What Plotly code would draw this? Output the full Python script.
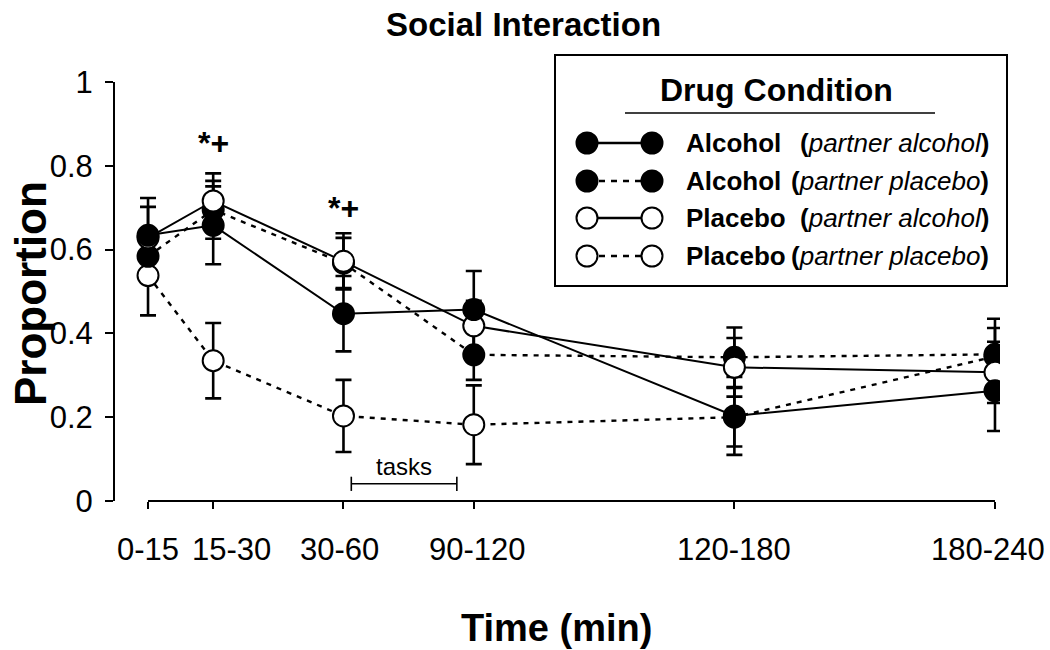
import plotly.graph_objects as go

# x categories (time bins) and their positions on the axis
time_labels = ["0-15", "15-30", "30-60", "90-120", "120-180", "180-240"]
time_pos = [0, 1, 3, 5, 9, 13]

# proportions per drug condition (mean) and SEM
alc_pa = [0.634, 0.658, 0.447, 0.457, 0.203, 0.263]
alc_pa_err = [0.089, 0.093, 0.090, 0.092, 0.093, 0.096]
alc_pp = [0.584, 0.695, 0.568, 0.349, 0.343, 0.350]
alc_pp_err = [0.060, 0.069, 0.060, 0.060, 0.071, 0.085]
plc_pa = [0.628, 0.716, 0.572, 0.418, 0.319, 0.307]
plc_pa_err = [0.074, 0.066, 0.067, 0.060, 0.070, 0.073]
plc_pp = [0.538, 0.335, 0.203, 0.182, 0.200, 0.345]
plc_pp_err = [0.095, 0.090, 0.086, 0.094, 0.070, 0.068]

y_ticks = [0, 0.2, 0.4, 0.6, 0.8, 1]
y_ticktext = ["0", "0.2", "0.4", "0.6", "0.8", "1"]

# significance marks and task window
sig_pos = [1, 3]
sig_y = [0.855, 0.70]
tasks_span = [3.12, 4.74]

series = [
    # name, partner, y, err, filled, dashed
    ("Alcohol", "partner alcohol", alc_pa, alc_pa_err, True, False),
    ("Alcohol", "partner placebo", alc_pp, alc_pp_err, True, True),
    ("Placebo", "partner alcohol", plc_pa, plc_pa_err, False, False),
    ("Placebo", "partner placebo", plc_pp, plc_pp_err, False, True),
]

FONT = "Liberation Sans, Arial, sans-serif"
DASH = "5px,6px"

fig = go.Figure()

# lines + error bars first, markers on top afterwards
for name, partner, y, err, filled, dashed in series:
    fig.add_trace(go.Scatter(
        x=time_pos, y=y, mode="lines",
        line=dict(color="black", width=2.4 if dashed else 2.0, dash=DASH if dashed else "solid"),
        error_y=dict(type="data", array=err, visible=True,
                     color="black", thickness=2.6, width=8),
        showlegend=False, hoverinfo="skip",
    ))

for idx in [3, 1, 2, 0]:
    name, partner, y, err, filled, dashed = series[idx]
    fig.add_trace(go.Scatter(
        x=time_pos, y=y, mode="markers",
        marker=dict(size=21, color="black" if filled else "white",
                    line=dict(color="black", width=2)),
        name=f"{name} ({partner})", showlegend=False,
    ))

# plot area in pixels: left 115, right 1000, top 82, bottom 501
L, R, T, B = 115, 1000, 82, 501


def px(xp):
    return (xp - L) / (R - L)


def py(yp):
    return (B - yp) / (B - T)


def note(x, y, text, size, xref="paper", yref="paper", **kw):
    d = dict(x=x, y=y, xref=xref, yref=yref, text=text, showarrow=False,
             xanchor="center", yanchor="middle",
             font=dict(size=size, color="black", family=FONT))
    d.update(kw)
    return d


shapes = []
annotations = []

# x axis line only across the data range
shapes.append(dict(type="line", xref="x", yref="paper", x0=time_pos[0], x1=time_pos[-1],
                   y0=0, y1=0, line=dict(color="black", width=2)))

# x tick labels (crowded ones nudged like the original)
label_shift = [0, 18, -4, 4, 0, -7]
for xv, lab, sh in zip(time_pos, time_labels, label_shift):
    annotations.append(note(xv, py(549), lab, 31, xref="x", xshift=sh))

# tasks bracket
tick_h = 0.017
shapes.append(dict(type="line", xref="x", yref="y", x0=tasks_span[0], x1=tasks_span[1],
                   y0=0.041, y1=0.041, line=dict(color="black", width=1.6)))
for xb in tasks_span:
    shapes.append(dict(type="line", xref="x", yref="y", x0=xb, x1=xb,
                       y0=0.041 - tick_h, y1=0.041 + tick_h, line=dict(color="black", width=1.6)))
annotations.append(note(sum(tasks_span) / 2, 0.045, "tasks", 24, xref="x", yref="y",
                        yanchor="bottom"))

for xs, ys in zip(sig_pos, sig_y):
    annotations.append(note(xs, ys, "<b>*+</b>", 32, xref="x", yref="y"))

# legend box drawn by hand
shapes.append(dict(type="rect", xref="paper", yref="paper", x0=px(555), x1=px(1007),
                   y0=py(286), y1=py(55), line=dict(color="black", width=2), fillcolor="white",
                   layer="below"))
annotations.append(note(px(776), py(90), "<b>Drug Condition</b>", 32))
shapes.append(dict(type="line", xref="paper", yref="paper", x0=px(625), x1=px(935),
                   y0=py(113), y1=py(113), line=dict(color="black", width=1.5)))

row_y = [143, 181, 218, 256]
for (name, partner, y, err, filled, dashed), ry in zip(series, row_y):
    shapes.append(dict(type="line", xref="paper", yref="paper", x0=px(587), x1=px(652),
                       y0=py(ry), y1=py(ry),
                       line=dict(color="black", width=2.5, dash="6px,6px" if dashed else "solid")))
    for cx in (587, 652):
        shapes.append(dict(type="circle", xref="paper", yref="paper",
                           xsizemode="pixel", ysizemode="pixel",
                           xanchor=px(cx), yanchor=py(ry), x0=-10.5, x1=10.5, y0=-10.5, y1=10.5,
                           fillcolor="black" if filled else "white",
                           line=dict(color="black", width=2)))
    annotations.append(note(px(684), py(ry), f"<b>{name}</b>", 26, xanchor="left"))
    annotations.append(note(px(991), py(ry), f"<b>(</b><i>{partner}</i><b>)</b>", 26,
                            xanchor="right"))

# titles
annotations.append(note(px(523), py(24), "<b>Social Interaction</b>", 33))
annotations.append(note(px(556), py(628), "<b>Time (min)</b>", 38))
annotations.append(note(px(30), py(294), "<b>Proportion</b>", 44, textangle=-90))

fig.update_xaxes(
    range=[-0.507, 13.077], tickvals=time_pos, showticklabels=False,
    showline=False, showgrid=False, zeroline=False, automargin=False,
    ticks="outside", ticklen=7, tickwidth=2, tickcolor="black",
)
fig.update_yaxes(
    range=[0, 1], tickvals=y_ticks, ticktext=y_ticktext, automargin=False,
    showline=True, linewidth=2, linecolor="black", showgrid=False, zeroline=False,
    ticks="outside", ticklen=8, tickwidth=2, tickcolor="black",
    ticklabelstandoff=6, tickfont=dict(size=31, color="black", family=FONT),
)

fig.update_layout(
    width=1050, height=650,
    margin=dict(l=L, r=1050 - R, t=T, b=650 - B),
    plot_bgcolor="white", paper_bgcolor="white",
    shapes=shapes, annotations=annotations,
    showlegend=False,
)

# drop the browser's default body margin so the figure sits at the top-left corner
fig.write_html("out.html", config={"displayModeBar": False},
               post_script="document.body.style.margin = '0';")
